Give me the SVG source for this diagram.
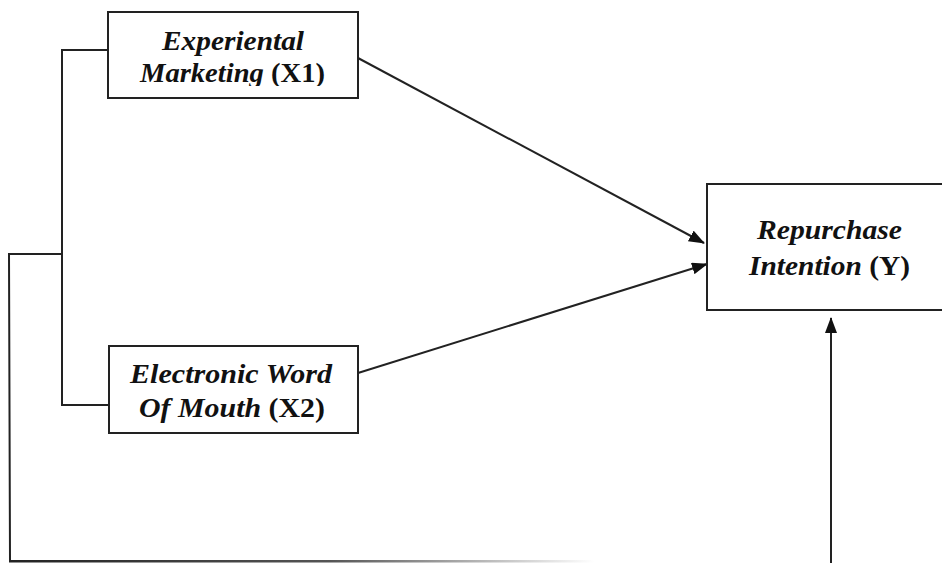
<svg xmlns="http://www.w3.org/2000/svg" width="942" height="563" viewBox="0 0 942 563">
<style>
.box{fill:#fff;stroke:#222;stroke-width:2}
.ln{fill:none;stroke:#222;stroke-width:2}
.t{font-family:"Liberation Serif","Times New Roman",serif;font-size:28px;fill:#111;font-weight:bold}
.i{font-style:italic}
</style>
<defs>
<marker id="ah" markerWidth="16" markerHeight="12" refX="15" refY="6" orient="auto" markerUnits="userSpaceOnUse" viewBox="0 0 16 12">
<path d="M0,0 L16,6 L0,12 z" fill="#111"/>
</marker>
<clipPath id="c1"><rect x="108" y="12" width="250" height="74"/></clipPath>
<linearGradient id="fade" x1="0" y1="0" x2="1" y2="0">
<stop offset="0" stop-color="#222"/>
<stop offset="0.55" stop-color="#555"/>
<stop offset="1" stop-color="#fff"/>
</linearGradient>
</defs>
<rect width="942" height="563" fill="#fff"/>
<g id="connectors">
<polyline class="ln" points="108,50 62,50 62,405 109,405"/>
<polyline class="ln" points="62,254 9,254 10,561"/>
<rect x="9" y="560" width="585" height="2.5" fill="url(#fade)"/>
<line class="ln" x1="358" y1="58" x2="704" y2="243" marker-end="url(#ah)"/>
<line class="ln" x1="358" y1="373" x2="707" y2="264" marker-end="url(#ah)"/>
<line class="ln" x1="831" y1="563" x2="831" y2="318" marker-end="url(#ah)"/>
</g>
<g id="x1">
<rect class="box" x="108" y="12" width="250" height="86"/>
<g clip-path="url(#c1)">
<text class="t i" x="162" y="50" textLength="142" lengthAdjust="spacingAndGlyphs">Experiental</text>
<text class="t" x="140" y="82" textLength="185" lengthAdjust="spacingAndGlyphs"><tspan class="i">Marketing </tspan>(X1)</text>
</g>
</g>
<g id="x2">
<rect class="box" x="109" y="346" width="249" height="87"/>
<text class="t i" x="130" y="383" textLength="202" lengthAdjust="spacingAndGlyphs">Electronic Word</text>
<text class="t" x="139" y="417" textLength="186" lengthAdjust="spacingAndGlyphs"><tspan class="i">Of Mouth  </tspan>(X2)</text>
</g>
<g id="y">
<rect class="box" x="707" y="184" width="240" height="126"/>
<text class="t i" x="757" y="239" textLength="145" lengthAdjust="spacingAndGlyphs">Repurchase</text>
<text class="t" x="749" y="275" textLength="161" lengthAdjust="spacingAndGlyphs"><tspan class="i">Intention </tspan>(Y)</text>
</g>
</svg>
